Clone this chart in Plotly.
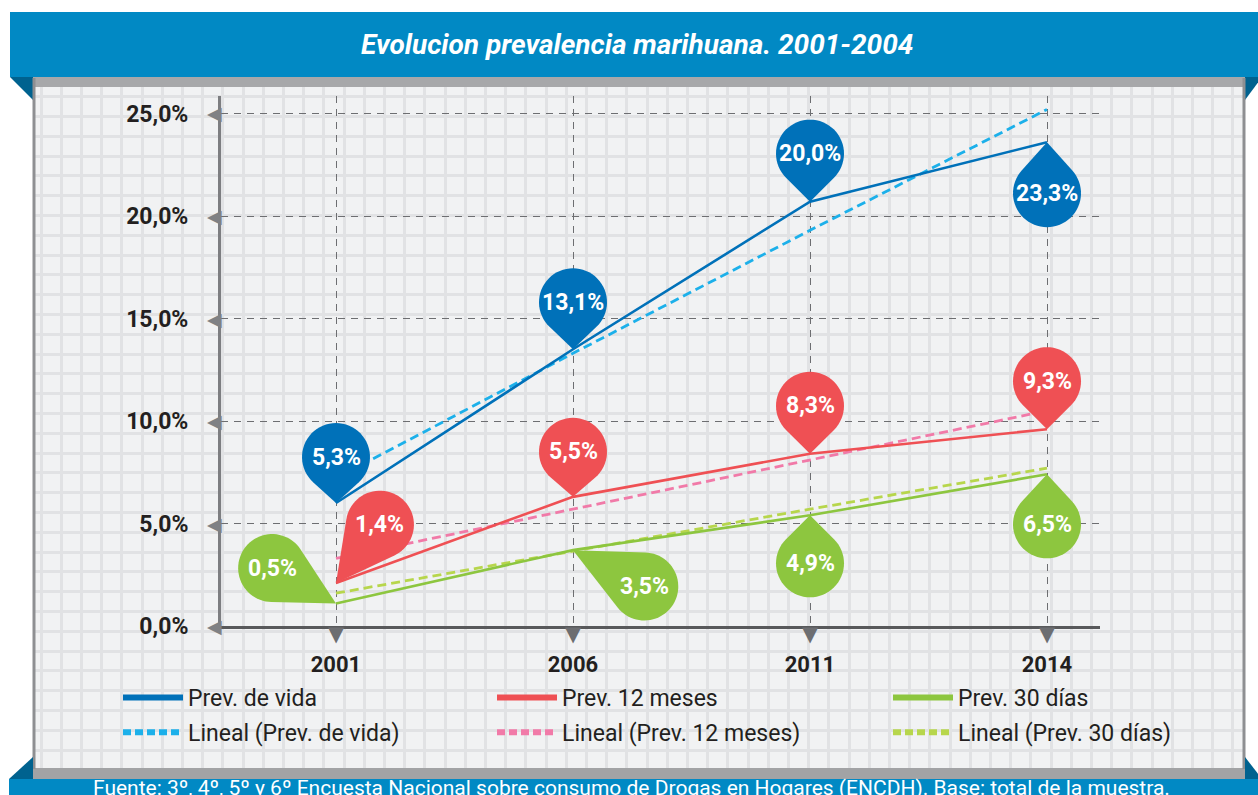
import math
import plotly.graph_objects as go

W, H = 1258, 795

# ---------------- data ----------------
years = ["2001", "2006", "2011", "2014"]
prev_vida = [6.0, 13.5, 20.7, 23.6]
prev_12m = [2.1, 6.3, 8.4, 9.6]
prev_30d = [1.1, 3.7, 5.4, 7.4]
lineal_vida = [7.2, 13.3, 19.3, 25.2]
lineal_12m = [3.3, 5.7, 8.1, 10.5]
lineal_30d = [1.6, 3.65, 5.7, 7.7]
labels_vida = ["5,3%", "13,1%", "20,0%", "23,3%"]
labels_12m = ["1,4%", "5,5%", "8,3%", "9,3%"]
labels_30d = ["0,5%", "3,5%", "4,9%", "6,5%"]
y_ticks = [0, 5, 10, 15, 20, 25]
y_tick_labels = ["0,0%", "5,0%", "10,0%", "15,0%", "20,0%", "25,0%"]

# ---------------- style ----------------
C_BLUE = "#0071b9"
C_BLUE_T = "#1cb0ea"
C_RED = "#ef5054"
C_RED_T = "#f17aa8"
C_GREEN = "#8dc63f"
C_GREEN_T = "#b7d64c"
C_BANNER = "#0189c4"
C_FOLD = "#00628f"
C_TEXT = "#231f20"
FONT = "Roboto"

pins_vida = [(90, 46), (90, 47), (90, 48), (-90, 51)]
pins_12m = [(53, 73), (90, 45), (90, 48), (90, 48)]
pins_30d = [(151, 73), (-27, 80), (-90, 48), (-90, 50)]
PIN_R = 34

X0_PX, X_STEP = 336, 237
PLOT_L, PLOT_R, PLOT_T, PLOT_B = 221, 1100, 96, 626
Y0_PX, PX_PER_PCT = 626, 20.5

xr = [(PLOT_L - X0_PX) / X_STEP, (PLOT_R - X0_PX) / X_STEP]
yr = [(Y0_PX - PLOT_B) / PX_PER_PCT, (Y0_PX - PLOT_T) / PX_PER_PCT]


def px(p):
    return p / W


def py(p):
    return 1 - p / H


def pin_path(angle_deg, d, r, n=48):
    a = math.radians(angle_deg)
    cx, cy = d * math.cos(a), d * math.sin(a)
    beta = math.acos(r / d)
    back = a + math.pi
    start, end = back + beta, back + 2 * math.pi - beta
    pts = []
    for k in range(n + 1):
        t = start + (end - start) * k / n
        pts.append((cx + r * math.cos(t), cy + r * math.sin(t)))
    path = "M0,0 " + " ".join(f"L{x:.2f},{y:.2f}" for x, y in pts) + " Z"
    return path, cx, cy


fig = go.Figure()

fig.add_trace(go.Scatter(x=[None], y=[None], xaxis="x", yaxis="y",
                         showlegend=False, hoverinfo="skip"))

idx = list(range(len(years)))
series = [
    ("Prev. de vida", prev_vida, C_BLUE, "solid", "legend"),
    ("Lineal (Prev. de vida)", lineal_vida, C_BLUE_T, "9px,5px", "legend"),
    ("Prev. 12 meses", prev_12m, C_RED, "solid", "legend2"),
    ("Lineal (Prev. 12 meses)", lineal_12m, C_RED_T, "9px,5px", "legend2"),
    ("Prev. 30 días", prev_30d, C_GREEN, "solid", "legend3"),
    ("Lineal (Prev. 30 días)", lineal_30d, C_GREEN_T, "9px,5px", "legend3"),
]
for name, vals, col, dash, lg in sorted(series, key=lambda s: s[3] == "solid"):
    fig.add_trace(go.Scatter(x=idx, y=vals, mode="lines", xaxis="x2", yaxis="y2",
                             line=dict(color=col, width=2.6 if dash == "solid" else 2.8,
                                       dash=dash),
                             showlegend=False, hoverinfo="skip"))

for k, (name, vals, col, dash, lg) in enumerate(series):
    fig.add_trace(go.Scatter(x=[None], y=[None], mode="lines", xaxis="x2", yaxis="y2",
                             name=name, legend=lg, legendgroup=f"g{k}",
                             line=dict(color=col, width=6,
                                       dash="solid" if dash == "solid" else "8px,4px")))

shapes = []
annotations = []

shapes.append(dict(type="rect", xref="paper", yref="paper", x0=px(33), x1=px(1245),
                   y0=py(769), y1=py(78), fillcolor="#f1f2f3", line=dict(width=0),
                   layer="below"))
shapes.append(dict(type="rect", xref="paper", yref="paper", x0=px(10), x1=px(1262),
                   y0=py(77), y1=py(12), fillcolor=C_BANNER, line=dict(width=0), layer="above"))
shapes.append(dict(type="path", xref="paper", yref="paper", layer="above",
                   path=f"M{px(10)},{py(77)} L{px(33)},{py(77)} L{px(33)},{py(100)} Z",
                   fillcolor=C_FOLD, line=dict(width=0)))
shapes.append(dict(type="path", xref="paper", yref="paper", layer="above",
                   path=f"M{px(1245)},{py(77)} L{px(1262)},{py(77)} L{px(1245)},{py(100)} Z",
                   fillcolor=C_FOLD, line=dict(width=0)))
shapes.append(dict(type="rect", xref="paper", yref="paper", x0=px(33), x1=px(1245),
                   y0=py(87), y1=py(77), fillcolor="#a7a8aa", line=dict(width=0), layer="above"))
shapes.append(dict(type="rect", xref="paper", yref="paper", x0=px(33), x1=px(1245),
                   y0=py(779), y1=py(768), fillcolor="#a2a3a5", line=dict(width=0), layer="above"))
for xx in (34, 1244):
    shapes.append(dict(type="line", xref="paper", yref="paper", x0=px(xx), x1=px(xx),
                       y0=py(769), y1=py(78), line=dict(color="#8e8f92", width=3),
                       layer="above"))
shapes.append(dict(type="rect", xref="paper", yref="paper", x0=px(9), x1=px(1262),
                   y0=py(800), y1=py(779), fillcolor=C_BANNER, line=dict(width=0), layer="above"))
shapes.append(dict(type="path", xref="paper", yref="paper", layer="above",
                   path=f"M{px(9)},{py(779)} L{px(33)},{py(757)} L{px(33)},{py(779)} Z",
                   fillcolor=C_FOLD, line=dict(width=0)))
shapes.append(dict(type="path", xref="paper", yref="paper", layer="above",
                   path=f"M{px(1245)},{py(757)} L{px(1262)},{py(779)} L{px(1245)},{py(779)} Z",
                   fillcolor=C_FOLD, line=dict(width=0)))

for vals, labels, pins, col in [(prev_vida, labels_vida, pins_vida, C_BLUE),
                                (prev_12m, labels_12m, pins_12m, C_RED),
                                (prev_30d, labels_30d, pins_30d, C_GREEN)]:
    for i, (v, lab, (ang, d)) in enumerate(zip(vals, labels, pins)):
        path, cx, cy = pin_path(ang, d, PIN_R)
        shapes.append(dict(type="path", xref="x2", yref="y2", xsizemode="pixel",
                           ysizemode="pixel", xanchor=i, yanchor=v, path=path,
                           fillcolor=col, line=dict(width=0), layer="above"))
        annotations.append(dict(x=i, y=v, xref="x2", yref="y2", xshift=cx, yshift=cy,
                                xanchor="center", yanchor="middle",
                                text=lab, showarrow=False,
                                font=dict(family=FONT, size=23, color="white", weight="bold")))

# axis tick triangles (glyphs)
for t in y_ticks:
    annotations.append(dict(x=xr[0], y=t, xref="x2", yref="y2", xanchor="right",
                            yanchor="middle", text="◀", showarrow=False, xshift=3,
                            font=dict(family="DejaVu Sans", size=19, color="#808184")))
for i in idx:
    annotations.append(dict(x=i, y=yr[0], xref="x2", yref="y2", xanchor="center",
                            yanchor="top", text="▼", showarrow=False, yshift=6,
                            font=dict(family="DejaVu Sans", size=21, color="#6d6e71")))

annotations.append(dict(x=px(637), y=py(45), xref="paper", yref="paper",
                        xanchor="center", yanchor="middle",
                        text="Evolucion prevalencia marihuana. 2001-2004", showarrow=False,
                        font=dict(family=FONT, size=28, color="white", weight="bold",
                                  style="italic")))
annotations.append(dict(x=px(632), y=py(788), xref="paper", yref="paper",
                        xanchor="center", yanchor="middle",
                        text="Fuente: 3º, 4º, 5º y 6º Encuesta Nacional sobre consumo de Drogas "
                             "en Hogares (ENCDH). Base: total de la muestra.",
                        showarrow=False, font=dict(family=FONT, size=21, color="white")))

legend_common = dict(yanchor="top", xanchor="left", orientation="v",
                     bgcolor="rgba(0,0,0,0)", borderwidth=0,
                     font=dict(family=FONT, size=23, color=C_TEXT),
                     itemwidth=60, traceorder="grouped", tracegroupgap=2)

fig.update_layout(
    width=W, height=H,
    margin=dict(l=0, r=0, t=0, b=0, pad=0, autoexpand=False),
    paper_bgcolor="white",
    plot_bgcolor="rgba(0,0,0,0)",
    showlegend=True,
    legend=dict(x=px(118), y=py(676), **legend_common),
    legend2=dict(x=px(492), y=py(676), **legend_common),
    legend3=dict(x=px(888), y=py(676), **legend_common),
    xaxis=dict(domain=[px(35), px(1243)], range=[35, 1243], anchor="y", automargin=False,
               tick0=41, dtick=20.2, showgrid=True, gridcolor="#e1e2e4", gridwidth=3,
               showticklabels=False, zeroline=False, ticks="", showline=False),
    yaxis=dict(domain=[py(769), py(87)], range=[769, 87], anchor="x", automargin=False,
               tick0=96.7, dtick=19.8, showgrid=True, gridcolor="#e1e2e4", gridwidth=3,
               showticklabels=False, zeroline=False, ticks="", showline=False),
    xaxis2=dict(domain=[px(PLOT_L), px(PLOT_R)], range=xr, anchor="y2", automargin=False,
                tickmode="array", tickvals=idx, ticktext=years,
                showgrid=True, gridcolor="#6d6e71", gridwidth=1.3, griddash="7px,6px",
                zeroline=False, showline=True, linecolor="#58595b", linewidth=3,
                ticks="", ticklabelstandoff=17,
                tickfont=dict(family=FONT, size=22, color=C_TEXT, weight="bold")),
    yaxis2=dict(domain=[py(PLOT_B), py(PLOT_T)], range=yr, anchor="x2", automargin=False,
                tickmode="array", tickvals=y_ticks, ticktext=y_tick_labels,
                showgrid=True, gridcolor="#6d6e71", gridwidth=1.3, griddash="7px,6px",
                zeroline=False, showline=True, linecolor="#7d7e81", linewidth=3,
                ticks="", ticklabelstandoff=25,
                tickfont=dict(family=FONT, size=23, color=C_TEXT, weight="bold")),
    shapes=shapes,
    annotations=annotations,
)

fig.write_html("out.html", config={"displayModeBar": False},
               post_script="document.body.style.margin='0';document.body.style.overflow='hidden';")
